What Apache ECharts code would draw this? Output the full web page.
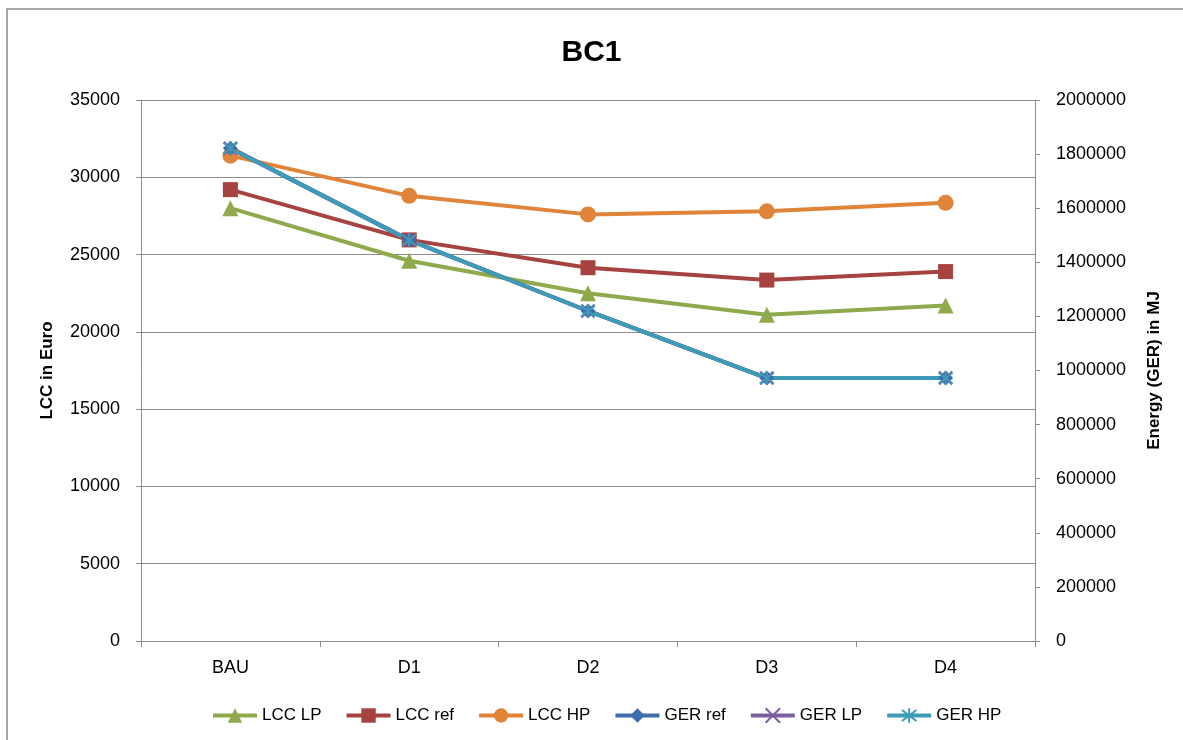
<!DOCTYPE html>
<html>
<head>
<meta charset="utf-8">
<title>BC1</title>
<script src="https://cdn.jsdelivr.net/npm/echarts@6/dist/echarts.min.js"></script>
<style>
  html, body { margin: 0; padding: 0; background: #ffffff; }
  #chart { width: 1183px; height: 740px; }
</style>
</head>
<body>
<div id="chart"></div>
<script>
// Design options compared (life cycle cost on the left, gross energy requirement on the right)
const categories = ['BAU', 'D1', 'D2', 'D3', 'D4'];

// LCC in Euro
const lccLP  = [28000, 24600, 22500, 21100, 21700];
const lccRef = [29200, 25950, 24150, 23350, 23900];
const lccHP  = [31400, 28800, 27600, 27800, 28350];

// GER in MJ
const gerRef = [1822000, 1482000, 1220000, 972000, 972000];
const gerLP  = [1822000, 1482000, 1220000, 972000, 972000];
const gerHP  = [1822000, 1482000, 1220000, 972000, 972000];

const FONT = '"Liberation Sans", Arial, sans-serif';
const GRID_GRAY = '#8c8c8c';

// Marker shapes drawn as stroked paths
const xMark = 'path://M0,0L10,10M10,0L0,10';
const starMark = 'path://M0,0L10,10M10,0L0,10M5,-1.5L5,11.5';

// Plain integer tick labels, no grouping separators
const plain = v => String(Math.round(v));

function lineSeries(name, data, color, symbol, size, yIndex, stroke) {
  return {
    name: name,
    type: 'line',
    yAxisIndex: yIndex,
    data: data,
    symbol: symbol,
    symbolSize: size,
    showAllSymbol: true,
    lineStyle: { color: color, width: 4 },
    itemStyle: stroke
      ? { color: color, borderColor: color, borderWidth: 2 }
      : { color: color, borderWidth: 0 },
    emphasis: { disabled: true },
    animation: false
  };
}

const chart = echarts.init(document.getElementById('chart'), null, { renderer: 'canvas' });

chart.setOption({
  backgroundColor: '#ffffff',
  animation: false,
  textStyle: { fontFamily: FONT },
  title: {
    text: 'BC1',
    left: 'center',
    top: 33,
    textStyle: { fontFamily: FONT, fontSize: 30, fontWeight: 'bold', color: '#000000' }
  },
  graphic: [{
    type: 'rect',
    shape: { x: 7, y: 9, width: 1200, height: 760 },
    style: { fill: null, stroke: '#8c8c8c', lineWidth: 1.5 },
    silent: true,
    z: -10
  }],
  grid: { left: 141, right: 148, top: 100, bottom: 99, containLabel: false },
  legend: {
    bottom: 11,
    left: 206,
    itemWidth: 44,
    itemHeight: 18,
    itemGap: 23,
    lineStyle: { width: 4 },
    textStyle: { fontFamily: FONT, fontSize: 17, color: '#000000' },
    data: ['LCC LP', 'LCC ref', 'LCC HP', 'GER ref', 'GER LP', 'GER HP']
  },
  xAxis: {
    type: 'category',
    data: categories,
    boundaryGap: true,
    axisLine: { lineStyle: { color: GRID_GRAY, width: 1 } },
    axisTick: { show: true, length: 6, lineStyle: { color: GRID_GRAY } },
    axisLabel: { margin: 18, fontFamily: FONT, fontSize: 18, color: '#000000' },
    splitLine: { show: false }
  },
  yAxis: [{
    type: 'value',
    position: 'left',
    min: 0,
    max: 35000,
    interval: 5000,
    name: 'LCC in Euro',
    nameLocation: 'middle',
    nameGap: 85,
    nameRotate: 90,
    nameTextStyle: { fontFamily: FONT, fontSize: 17, fontWeight: 'bold', color: '#000000' },
    axisLine: { show: true, lineStyle: { color: GRID_GRAY, width: 1 } },
    axisTick: { show: true, length: 5, lineStyle: { color: GRID_GRAY } },
    axisLabel: { margin: 21, fontFamily: FONT, fontSize: 18, color: '#000000', formatter: plain },
    splitLine: { show: true, lineStyle: { color: GRID_GRAY, width: 1 } }
  }, {
    type: 'value',
    position: 'right',
    min: 0,
    max: 2000000,
    interval: 200000,
    name: 'Energy (GER) in MJ',
    nameLocation: 'middle',
    nameGap: 111,
    nameRotate: 90,
    nameTextStyle: { fontFamily: FONT, fontSize: 17, fontWeight: 'bold', color: '#000000' },
    axisLine: { show: true, lineStyle: { color: GRID_GRAY, width: 1 } },
    axisTick: { show: true, length: 5, lineStyle: { color: GRID_GRAY } },
    axisLabel: { margin: 21, fontFamily: FONT, fontSize: 18, color: '#000000', formatter: plain },
    splitLine: { show: false }
  }],
  series: [
    lineSeries('LCC LP',  lccLP,  '#8FAA4C', 'triangle', 16, 0, false),
    lineSeries('LCC ref', lccRef, '#A6423F', 'rect',     15, 0, false),
    lineSeries('LCC HP',  lccHP,  '#E0843A', 'circle',   16, 0, false),
    lineSeries('GER ref', gerRef, '#3D6DAE', 'diamond',  15, 1, false),
    lineSeries('GER LP',  gerLP,  '#7B5EA0', xMark,      13, 1, true),
    lineSeries('GER HP',  gerHP,  '#3D9BB8', starMark,   14, 1, true)
  ]
});
</script>
</body>
</html>
